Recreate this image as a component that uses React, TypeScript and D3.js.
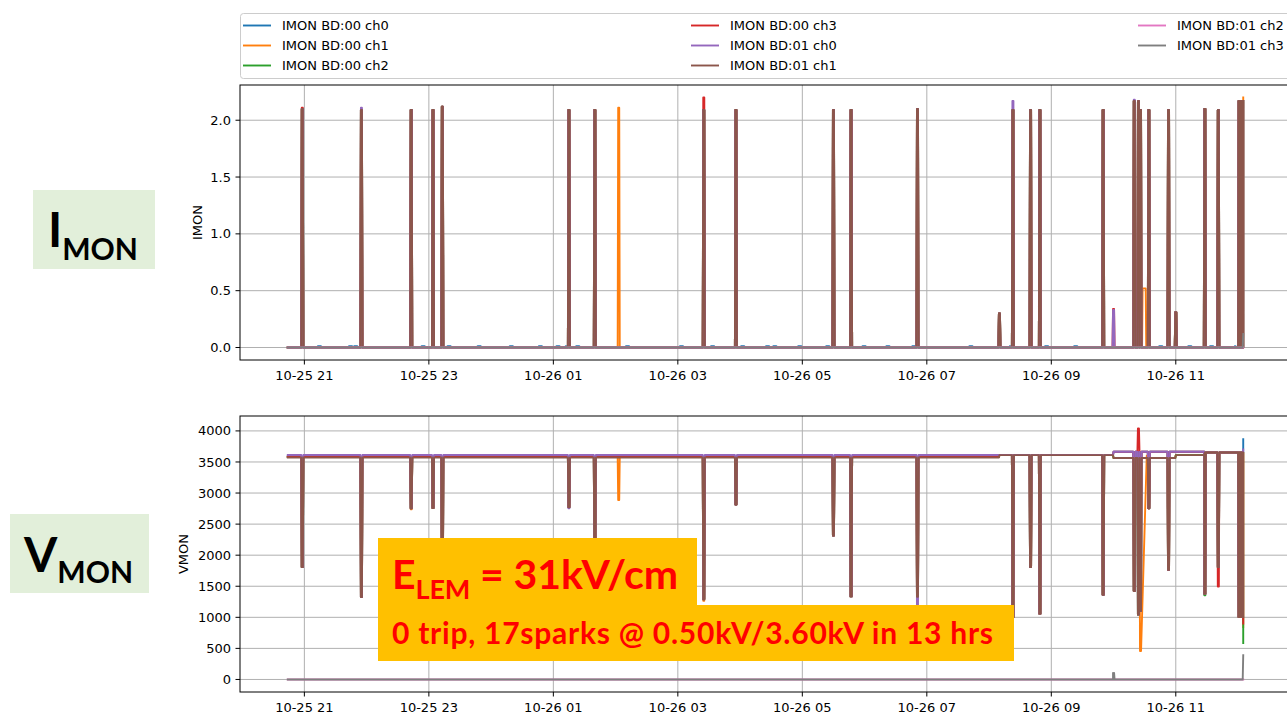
import React from "react";
import * as d3 from "d3";

// ---- channels ---------------------------------------------------------------
const CHANNELS = [
  "IMON BD:00 ch0",
  "IMON BD:00 ch1",
  "IMON BD:00 ch2",
  "IMON BD:00 ch3",
  "IMON BD:01 ch0",
  "IMON BD:01 ch1",
  "IMON BD:01 ch2",
  "IMON BD:01 ch3",
];
const COLORS = ["#1f77b4", "#ff7f0e", "#2ca02c", "#d62728", "#9467bd", "#8c564b", "#e377c2", "#7f7f7f"];
const POWERED = [true, true, true, true, true, true, false, false];

// ---- run window and axis ticks ----------------------------------------------
const RUN_START = "10-25 20:44";
const RUN_END = "10-26 12:05";
const X_TICKS = [
  "10-25 21:00",
  "10-25 23:00",
  "10-26 01:00",
  "10-26 03:00",
  "10-26 05:00",
  "10-26 07:00",
  "10-26 09:00",
  "10-26 11:00",
];
const IMON_TICKS = [0, 0.5, 1.0, 1.5, 2.0];
const VMON_TICKS = [0, 500, 1000, 1500, 2000, 2500, 3000, 3500, 4000];

// ---- spark / ramp events (shared by all powered channels) ---------------------
const SPARK_TIMES = [
  "10-25 20:58", "10-25 21:55", "10-25 22:43", "10-25 23:04", "10-25 23:13",
  "10-26 01:15", "10-26 01:40", "10-26 02:03", "10-26 03:25", "10-26 03:56",
  "10-26 05:30", "10-26 05:47", "10-26 06:51", "10-26 08:10", "10-26 08:23",
  "10-26 08:40", "10-26 08:49", "10-26 09:50", "10-26 10:00", "10-26 10:20",
  "10-26 10:24", "10-26 10:26", "10-26 10:34", "10-26 10:53", "10-26 11:00",
  "10-26 11:28", "10-26 11:41", "10-26 12:01", "10-26 12:02", "10-26 12:03",
  "10-26 12:04",
];
// peak current at each event (null: no common spike)
const SPARK_IMON: (number | null)[] = [
  2.10, 2.09, 2.09, 2.09, 2.12,
  2.09, 2.09, 2.11, 2.09, 2.09,
  2.09, 2.09, 2.10, 0.30, 2.09,
  2.09, 2.09, 2.09, null, 2.17,
  2.17, 2.09, 2.09, 2.09, 0.31,
  2.10, 2.09, 2.17, 2.17, 2.17,
  2.17,
];
// lowest voltage at each event (null: no dip, only a set-point step)
const SPARK_VMON: (number | null)[] = [
  1807, 1326, 2754, 2760, 1500,
  2770, 1800, 2889, 1289, 2814,
  2316, 1337, 1330, null, 1000,
  1807, 1059, 1364, null, 1422,
  1043, 1100, 2754, 1765, null,
  1380, 1807, 1005, 1005, 1005,
  1005,
];
// event seen on a single channel only (index), otherwise null
const SPARK_ONLY: (number | null)[] = [
  null, null, null, null, null,
  null, null, 1, null, null,
  null, null, null, null, null,
  null, null, null, null, null,
  null, null, null, null, null,
  null, null, null, null, null,
  null,
];

// per-channel values that differ from the shared event value: [time, channel, value]
const IMON_OVERRIDES: [string, number, number][] = [
  ["10-25 20:58", 3, 2.11],
  ["10-25 21:55", 4, 2.11],
  ["10-26 03:25", 3, 2.2],
  ["10-26 08:23", 4, 2.17],
  ["10-26 10:00", 3, 0.34],
  ["10-26 10:00", 4, 0.33],
  ["10-26 10:20", 4, 2.18],
];
const VMON_OVERRIDES: [string, number, number][] = [
  ["10-25 22:43", 1, 2740],
  ["10-26 01:15", 4, 2755],
  ["10-26 03:25", 1, 1265],
  ["10-26 06:51", 4, 1150],
  ["10-26 10:00", 7, 106],
  ["10-26 10:24", 3, 4038],
  ["10-26 10:26", 1, 459],
  ["10-26 11:28", 2, 1355],
  ["10-26 11:41", 3, 1497],
];
// slow recovery after a dip: [event time, channel, recovered at, recovered value]
const VMON_SLOW: [string, number, string, number][] = [["10-26 10:26", 1, "10-26 10:32", 3600]];
// held current level: [from, to, channel, value]
const IMON_HOLDS: [string, string, number, number][] = [["10-26 10:28", "10-26 10:31", 1, 0.52]];

// small leakage readings on BD:00 ch0
const BLUE_BLIP_TIMES = [
  "10-25 21:13", "10-25 21:43", "10-25 21:48", "10-25 22:53", "10-25 23:18",
  "10-25 23:47", "10-26 00:18", "10-26 00:46", "10-26 01:03", "10-26 01:12",
  "10-26 01:22", "10-26 02:10", "10-26 03:02", "10-26 03:32", "10-26 04:01",
  "10-26 04:25", "10-26 04:32", "10-26 04:56", "10-26 05:23", "10-26 05:58",
  "10-26 06:21", "10-26 06:46", "10-26 07:41", "10-26 08:20", "10-26 08:54",
  "10-26 09:22", "10-26 10:44", "10-26 11:12", "10-26 11:33", "10-26 11:57",
];
const BLUE_BLIP_LEVEL = 0.012;
const BLUE_BLIP_MINUTES = 3;

// voltage set-point segments
const VMON_STEP_TIMES = ["10-25 20:44", "10-26 08:10", "10-26 10:00", "10-26 11:00", "10-26 11:28"];
const VMON_BASE = [
  [3590, 3610, 3664, 3664, 3653],
  [3582, 3610, 3563, 3610, 3653],
  [3580, 3610, 3563, 3610, 3653],
  [3585, 3610, 3664, 3664, 3653],
  [3612, 3612, 3664, 3664, 3653],
  [3573, 3610, 3563, 3610, 3653],
  [0, 0, 0, 0, 0],
  [0, 0, 0, 0, 0],
];

// last reading of the run
const END_IMON = [2.17, 2.2, 2.17, 2.17, 2.17, 2.17, 0.0, 0.12];
const END_VMON = [3868, 844, 587, 900, 3700, 1005, 0, 390];

// ---- helpers ----------------------------------------------------------------
const parseTime = d3.utcParse("%m-%d %H:%M");
const toDate = (s: string) => parseTime(s) as Date;
const fmtTick = d3.utcFormat("%m-%d %H");
const HALF = 30 * 1000; // half of the one-minute sampling interval
const EDGE = 60 * 1000; // a spark is held for one sample, ramps over one sample

type Pt = [Date, number];

function baseAt(steps: Date[], bases: number[], t: number) {
  let v = bases[0];
  steps.forEach((s, i) => {
    if (t >= +s) v = bases[i];
  });
  return v;
}

function buildSeries(ch: number, kind: "I" | "V"): Pt[] {
  const isI = kind === "I";
  const steps = isI ? [toDate(RUN_START)] : VMON_STEP_TIMES.map(toDate);
  const bases = isI ? [0] : VMON_BASE[ch];
  const shared = isI ? SPARK_IMON : SPARK_VMON;
  const overrides = isI ? IMON_OVERRIDES : VMON_OVERRIDES;
  const end = toDate(RUN_END);
  const pts: Pt[] = [];

  steps.forEach((s, i) => {
    if (i > 0) pts.push([new Date(+s - HALF), bases[i - 1]]);
    pts.push([s, bases[i]]);
  });

  SPARK_TIMES.forEach((ts, j) => {
    const t = +toDate(ts);
    const ov = overrides.find((o) => o[0] === ts && o[1] === ch);
    let v: number | null = null;
    if (ov) v = ov[2];
    else if (shared[j] !== null && POWERED[ch] && (SPARK_ONLY[j] === null || SPARK_ONLY[j] === ch)) v = shared[j];
    if (v === null) return;
    pts.push([new Date(t - EDGE), baseAt(steps, bases, t - EDGE)]);
    pts.push([new Date(t - HALF), v]);
    pts.push([new Date(t + HALF), v]);
    const slow = !isI ? VMON_SLOW.find((o) => o[0] === ts && o[1] === ch) : undefined;
    if (slow) pts.push([toDate(slow[2]), slow[3]]);
    else pts.push([new Date(t + EDGE), baseAt(steps, bases, t + EDGE)]);
  });

  const holds: [string, string, number, number][] = isI
    ? [
        ...IMON_HOLDS,
        ...BLUE_BLIP_TIMES.map((s) => {
          const e = d3.utcFormat("%m-%d %H:%M")(d3.utcMinute.offset(toDate(s), BLUE_BLIP_MINUTES));
          return [s, e, 0, BLUE_BLIP_LEVEL] as [string, string, number, number];
        }),
      ]
    : [];
  holds
    .filter((h) => h[2] === ch)
    .forEach(([a, b, , v]) => {
      const ta = +toDate(a);
      const tb = +toDate(b);
      pts.push([new Date(ta - HALF), baseAt(steps, bases, ta)]);
      pts.push([new Date(ta), v]);
      pts.push([new Date(tb), v]);
      pts.push([new Date(tb + HALF), baseAt(steps, bases, tb)]);
    });

  pts.push([new Date(+end - HALF), baseAt(steps, bases, +end - HALF)]);
  pts.push([end, isI ? END_IMON[ch] : END_VMON[ch]]);
  pts.sort((a, b) => +a[0] - +b[0]);
  return pts;
}

const IMON_SERIES = CHANNELS.map((_, i) => buildSeries(i, "I"));
const VMON_SERIES = CHANNELS.map((_, i) => buildSeries(i, "V"));

function padded(lo: number, hi: number): [number, number] {
  const m = (hi - lo) * 0.05;
  return [lo - m, hi + m];
}

// ---- layout -----------------------------------------------------------------
const W = 1287;
const H = 715;
const AX_LEFT = 240;
const AX_RIGHT = 1291;
const TOP_PANEL = { top: 85, bottom: 360 };
const BOT_PANEL = { top: 416, bottom: 692 };
const GRID = "#b0b0b0";
const FONT = "DejaVu Sans, sans-serif";

const tStart = +toDate(RUN_START);
const tEnd = +toDate(RUN_END);
const xDom = padded(tStart, tEnd);
const x = d3.scaleUtc().domain([new Date(xDom[0]), new Date(xDom[1])]).range([AX_LEFT, AX_RIGHT]);

function extentOf(series: Pt[][]): [number, number] {
  const all = series.flat().map((p) => p[1]);
  return padded(d3.min(all) as number, d3.max(all) as number);
}

type PanelProps = {
  id: string;
  top: number;
  bottom: number;
  series: Pt[][];
  ticks: number[];
  fmt: (v: number) => string;
  label: string;
  labelX: number;
};

function Panel({ id, top, bottom, series, ticks, fmt, label, labelX }: PanelProps) {
  const y = d3.scaleLinear().domain(extentOf(series)).range([bottom, top]);
  const line = d3
    .line<Pt>()
    .x((d) => x(d[0]))
    .y((d) => y(d[1]));
  const xt = X_TICKS.map(toDate);
  return (
    <g>
      <defs>
        <clipPath id={id}>
          <rect x={AX_LEFT} y={top} width={AX_RIGHT - AX_LEFT} height={bottom - top} />
        </clipPath>
      </defs>
      {/* grid */}
      {xt.map((t, i) => (
        <line key={"gx" + i} x1={x(t)} x2={x(t)} y1={top} y2={bottom} stroke={GRID} strokeWidth={1} />
      ))}
      {ticks.map((v, i) => (
        <line key={"gy" + i} x1={AX_LEFT} x2={AX_RIGHT} y1={y(v)} y2={y(v)} stroke={GRID} strokeWidth={1} />
      ))}
      {/* data */}
      <g clipPath={`url(#${id})`}>
        {series.map((s, i) => (
          <path
            key={i}
            d={line(s) || ""}
            fill="none"
            stroke={COLORS[i]}
            strokeWidth={1.9}
            strokeLinejoin="round"
            strokeLinecap="square"
          />
        ))}
      </g>
      {/* frame */}
      <rect x={AX_LEFT} y={top} width={AX_RIGHT - AX_LEFT} height={bottom - top} fill="none" stroke="#000" strokeWidth={1} />
      {/* x ticks */}
      {xt.map((t, i) => (
        <g key={"tx" + i}>
          <line x1={x(t)} x2={x(t)} y1={bottom} y2={bottom + 4.5} stroke="#000" strokeWidth={1} />
          <text x={x(t)} y={bottom + 19.5} textAnchor="middle" fontSize={13} fontFamily={FONT} fill="#000">
            {fmtTick(t)}
          </text>
        </g>
      ))}
      {/* y ticks */}
      {ticks.map((v, i) => (
        <g key={"ty" + i}>
          <line x1={AX_LEFT - 4.5} x2={AX_LEFT} y1={y(v)} y2={y(v)} stroke="#000" strokeWidth={1} />
          <text x={AX_LEFT - 9} y={y(v)} dy="0.35em" textAnchor="end" fontSize={13} fontFamily={FONT} fill="#000">
            {fmt(v)}
          </text>
        </g>
      ))}
      <text
        transform={`translate(${labelX},${(top + bottom) / 2}) rotate(-90)`}
        textAnchor="middle"
        dy="0.35em"
        fontSize={13}
        fontFamily={FONT}
        fill="#000"
      >
        {label}
      </text>
    </g>
  );
}

function Legend() {
  const colX = [243, 691, 1138];
  const rowY = [25.5, 45.5, 65.5];
  return (
    <g>
      <rect x={240.5} y={13.5} width={1052} height={65} rx={3} fill="#fff" fillOpacity={0.8} stroke="#cccccc" strokeWidth={1} />
      {CHANNELS.map((name, i) => {
        const cx = colX[Math.floor(i / 3)];
        const cy = rowY[i % 3];
        return (
          <g key={name}>
            <line x1={cx} x2={cx + 28} y1={cy} y2={cy} stroke={COLORS[i]} strokeWidth={1.9} />
            <text x={cx + 39} y={cy} dy="0.35em" fontSize={13} fontFamily={FONT} fill="#000">
              {name}
            </text>
          </g>
        );
      })}
    </g>
  );
}

function SideLabel({ x0, y0, w, h, big, bigX, baseY, subY }: { x0: number; y0: number; w: number; h: number; big: string; bigX: number; baseY: number; subY: number }) {
  return (
    <g>
      <rect x={x0} y={y0} width={w} height={h} fill="#e2efda" />
      <text x={bigX} y={baseY} fontFamily="Lato, sans-serif" fontWeight={700} fill="#000" fontSize={48}>
        {big}
        <tspan y={subY} fontSize={30}>
          MON
        </tspan>
      </text>
    </g>
  );
}

export default function App() {
  return (
    <svg width={W} height={H} style={{ position: "absolute", left: 0, top: 0, background: "#fff" }}>
      <rect width={W} height={H} fill="#fff" />
      <Legend />
      <Panel
        id="clip-imon"
        top={TOP_PANEL.top}
        bottom={TOP_PANEL.bottom}
        series={IMON_SERIES}
        ticks={IMON_TICKS}
        fmt={d3.format(".1f")}
        label="IMON"
        labelX={197}
      />
      <Panel
        id="clip-vmon"
        top={BOT_PANEL.top}
        bottom={BOT_PANEL.bottom}
        series={VMON_SERIES}
        ticks={VMON_TICKS}
        fmt={d3.format("d")}
        label="VMON"
        labelX={183}
      />
      <SideLabel x0={33} y0={190} w={122} h={79} big="I" bigX={48} baseY={247} subY={260} />
      <SideLabel x0={10} y0={514} w={139} h={79} big="V" bigX={24} baseY={572} subY={583} />
      {/* field / spark summary */}
      <path d="M378,538 H697 V605 H1014 V661 H378 Z" fill="#ffc000" />
      <g fontFamily="Lato, sans-serif" fontWeight={700} fill="#ff0000">
        <text x={392} y={589} fontSize={41} textLength={286} lengthAdjust="spacing">
          E
          <tspan y={599} fontSize={27}>
            LEM
          </tspan>
          <tspan y={589}> = 31kV/cm</tspan>
        </text>
        <text x={392} y={644} fontSize={30} textLength={601} lengthAdjust="spacing">
          0 trip, 17sparks @ 0.50kV/3.60kV in 13 hrs
        </text>
      </g>
    </svg>
  );
}
